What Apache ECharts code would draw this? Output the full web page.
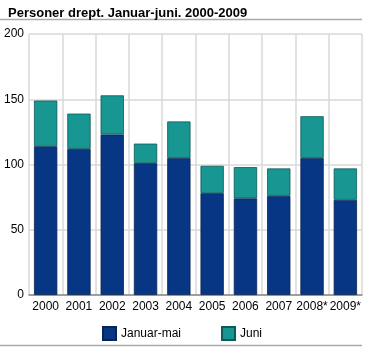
<!DOCTYPE html>
<html><head><meta charset="utf-8">
<script src="https://cdn.jsdelivr.net/npm/echarts@6/dist/echarts.min.js"></script>
<style>html,body{margin:0;padding:0;background:#fff}#c{width:370px;height:347px}</style>
</head><body><div id="c"></div>
<script>
const categories = ['2000','2001','2002','2003','2004','2005','2006','2007','2008*','2009*'];
const januarMai = [114, 112, 123, 101, 105, 78, 74, 76, 105, 73];
const juni = [35, 27, 30, 15, 28, 21, 24, 21, 32, 24];
const yTicks = [0, 50, 100, 150, 200];

const chart = echarts.init(document.getElementById('c'), null, {renderer:'canvas'});
const font = 'Liberation Sans, Arial, sans-serif';
chart.setOption({
  animation: false,
  title: {
    text: 'Personer drept. Januar-juni. 2000-2009',
    left: 3, top: 2,
    textStyle: {fontFamily: font, fontSize: 13, fontWeight: 'bold', color: '#000'}
  },
  graphic: [
    {type:'line', shape:{x1:0,y1:19.5,x2:362,y2:19.5}, style:{stroke:'#aaa', lineWidth:1.5}},
    {type:'line', shape:{x1:0,y1:345.5,x2:362,y2:345.5}, style:{stroke:'#aaa', lineWidth:1.5}}
  ],
  grid: {left: 29, right: 8, top: 34, bottom: 52},
  legend: {
    top: 321, left: 97, itemWidth: 13, itemHeight: 13, itemGap: 40,
    icon: 'rect',
    textStyle: {fontFamily: font, fontSize: 12, color: '#000'},
    data: ['Januar-mai', 'Juni']
  },
  xAxis: {
    type: 'category', data: categories,
    axisLine: {lineStyle: {color: '#888', width: 1.5}},
    axisTick: {show: false},
    axisLabel: {fontFamily: font, fontSize: 12, color: '#000', margin: 6, interval: 0},
    splitLine: {show: true, lineStyle: {color: '#d9d9d9', width: 1.5}}
  },
  yAxis: {
    type: 'value', min: yTicks[0], max: yTicks[yTicks.length-1], interval: 50,
    axisLine: {show: false}, axisTick: {show: false},
    axisLabel: {fontFamily: font, fontSize: 12, color: '#000', margin: 5},
    splitLine: {lineStyle: {color: '#d9d9d9', width: 1.5}}
  },
  series: [
    {name: 'Januar-mai', type: 'bar', stack: 't', data: januarMai, barWidth: '70%',
     itemStyle: {color: '#073685', borderColor: '#0b2550', borderWidth: 0.8}},
    {name: 'Juni', type: 'bar', stack: 't', data: juni, barWidth: '70%',
     itemStyle: {color: '#179692', borderColor: '#0e5a58', borderWidth: 0.8}}
  ]
});
</script></body></html>
